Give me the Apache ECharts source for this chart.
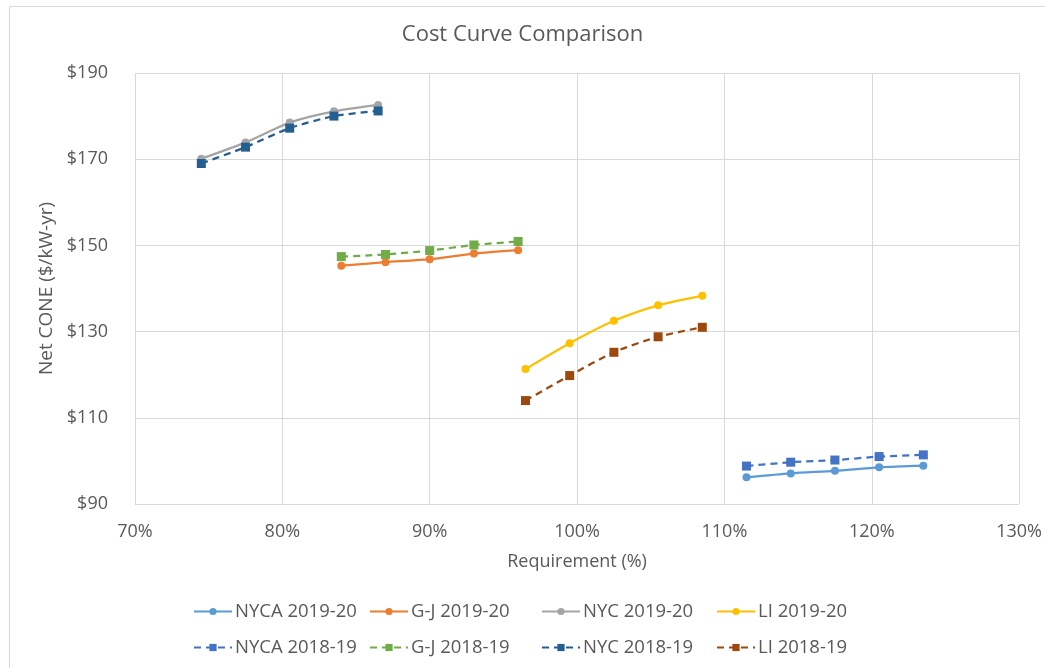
<!DOCTYPE html>
<html><head><meta charset="utf-8">
<style>html,body{margin:0;padding:0;background:#fff}#c{width:1045px;height:668px}</style>
<script src="https://cdn.jsdelivr.net/npm/echarts@6/dist/echarts.min.js"></script>
</head><body><div id="c"></div>
<script>
const xNYCA = [111.5, 114.5, 117.5, 120.5, 123.5];
const xGJ = [84, 87, 90, 93, 96];
const xNYC = [74.5, 77.5, 80.5, 83.5, 86.5];
const xLI = [96.5, 99.5, 102.5, 105.5, 108.5];
const nyca1920 = [96.2, 97.1, 97.7, 98.5, 98.9];
const gj1920 = [145.3, 146.1, 146.8, 148.1, 148.9];
const nyc1920 = [170.1, 173.9, 178.5, 181.1, 182.6];
const li1920 = [121.3, 127.3, 132.5, 136.1, 138.3];
const nyca1819 = [98.8, 99.7, 100.2, 101.0, 101.4];
const gj1819 = [147.4, 147.9, 148.8, 150.1, 150.9];
const nyc1819 = [169.0, 172.8, 177.2, 180.0, 181.2];
const li1819 = [114.0, 119.8, 125.2, 128.8, 131.0];
const seriesNames = ['NYCA 2019-20','G-J 2019-20','NYC 2019-20','LI 2019-20','NYCA 2018-19','G-J 2018-19','NYC 2018-19','LI 2018-19'];

const FONT = '"Open Sans", sans-serif';
const TXT = '#595959';
function pts(xs, ys){ return xs.map((x,i)=>[x, ys[i]]); }
function ser(name, xs, ys, color, dashed){
  return {
    name, type:'line', data: pts(xs, ys), smooth: 0.25,
    symbol: dashed ? 'rect' : 'circle', symbolSize: dashed ? 9 : 8,
    itemStyle:{color},
    lineStyle:{color, width: 2.25, type: dashed ? [7,5] : 'solid'},
    emphasis:{disabled:true}
  };
}
const chart = echarts.init(document.getElementById('c'));
const legendBase = {orient:'vertical', top:602, itemGap:17, itemWidth:38, itemHeight:9,
  textStyle:{fontFamily:FONT, fontSize:18.5, color:TXT, padding:[0,0,0,-2]}, padding:0};
chart.setOption({
  animation:false,
  title:{text:'Cost Curve Comparison', left:'center', top:19,
    textStyle:{fontFamily:FONT, fontSize:22, fontWeight:'normal', color:TXT}},
  graphic:[{type:'rect', shape:{x:9.5,y:6.5,width:1100,height:700}, style:{fill:'none', stroke:'#D9D9D9', lineWidth:1}, silent:true}],
  grid:{left:135, right:24, top:73, bottom:164},
  xAxis:{type:'value', min:70, max:130, interval:10,
    name:'Requirement (%)', nameLocation:'middle', nameGap:49,
    nameTextStyle:{fontFamily:FONT, fontSize:18, color:TXT},
    axisLabel:{formatter:v=>v+'%', fontFamily:FONT, fontSize:18, color:TXT, margin:19},
    axisLine:{show:false}, axisTick:{show:false},
    splitLine:{show:true, lineStyle:{color:'#D9D9D9', width:1}}},
  yAxis:{type:'value', min:90, max:190, interval:20,
    name:'Net CONE ($/kW-yr)', nameLocation:'middle', nameGap:78, nameRotate:90,
    nameTextStyle:{fontFamily:FONT, fontSize:19, color:TXT},
    axisLabel:{formatter:v=>'$'+v, fontFamily:FONT, fontSize:18, color:TXT, margin:27},
    axisLine:{show:false}, axisTick:{show:false},
    splitLine:{show:true, lineStyle:{color:'#D9D9D9', width:1}}},
  legend:[
    Object.assign({}, legendBase, {left:193, data:[seriesNames[0], seriesNames[4]]}),
    Object.assign({}, legendBase, {left:369, data:[seriesNames[1], seriesNames[5]]}),
    Object.assign({}, legendBase, {left:541, data:[seriesNames[2], seriesNames[6]]}),
    Object.assign({}, legendBase, {left:716, data:[seriesNames[3], seriesNames[7]]})
  ],
  series:[
    ser(seriesNames[0], xNYCA, nyca1920, '#5B9BD5', false),
    ser(seriesNames[1], xGJ, gj1920, '#ED7D31', false),
    ser(seriesNames[2], xNYC, nyc1920, '#A5A5A5', false),
    ser(seriesNames[3], xLI, li1920, '#FFC000', false),
    ser(seriesNames[4], xNYCA, nyca1819, '#4472C4', true),
    ser(seriesNames[5], xGJ, gj1819, '#70AD47', true),
    ser(seriesNames[6], xNYC, nyc1819, '#255E91', true),
    ser(seriesNames[7], xLI, li1819, '#9E480E', true)
  ]
});
</script></body></html>
